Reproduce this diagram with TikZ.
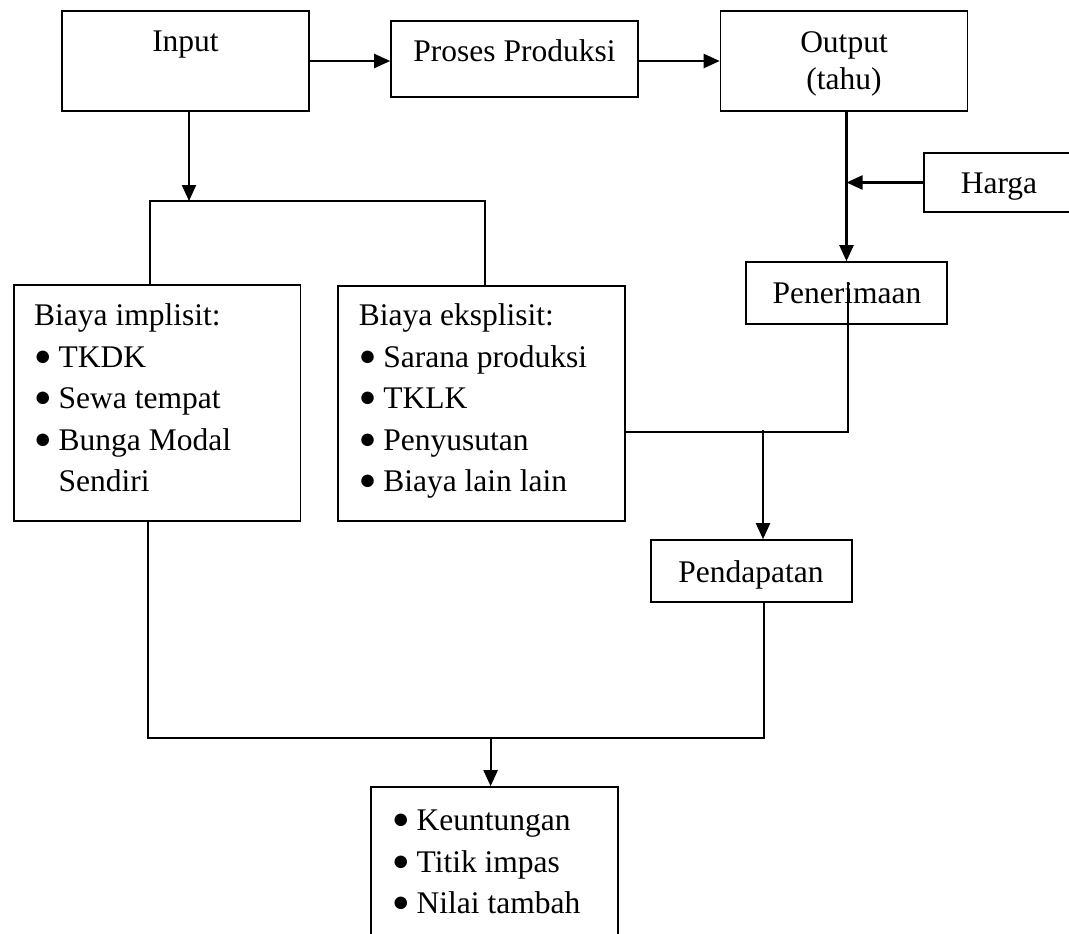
\documentclass[tikz,border=0pt]{standalone}
\usepackage{fontspec}
\setmainfont{Liberation Serif}
\usetikzlibrary{arrows.meta}
\begin{document}
\begin{tikzpicture}[x=1pt,y=-1pt,
  box/.style={draw, line width=1.6pt, inner sep=0pt},
  txt/.style={inner sep=0pt, anchor=base west, text height=23pt, text depth=7pt, font=\fontsize{31.5}{37}\selectfont},
  ctxt/.style={inner sep=0pt, anchor=base, text height=23pt, text depth=7pt, font=\fontsize{31.5}{37}\selectfont},
  arr/.style={line width=2.2pt, -{Triangle[length=16pt,width=14pt]}},
  thinline/.style={line width=1.5pt}]
\useasboundingbox (0,0) rectangle (1069,934);
\clip (0,0) rectangle (1069,934);
\newcommand{\bul}{\makebox[24.5pt][l]{\raisebox{2pt}{\fontsize{29}{29}\selectfont ●}}}
% boxes
\node[box, minimum width=247pt, minimum height=100pt] (in) at (185.5,61) {};
\node[box, minimum width=247pt, minimum height=76pt] (pp) at (514.5,59) {};
\node[box, minimum width=247pt, minimum height=100pt] (out) at (844,61) {};
\node[box, minimum width=150pt, minimum height=59pt] (harga) at (999,182.5) {};
\node[box, minimum width=201pt, minimum height=62pt] (pen) at (846.5,293) {};
\node[box, minimum width=286.6pt, minimum height=236pt] (imp) at (157.3,403) {};
\node[box, minimum width=287pt, minimum height=235pt] (eks) at (481.5,403.5) {};
\node[box, minimum width=201pt, minimum height=62pt] (pd) at (751.5,571) {};
\node[box, minimum width=247pt, minimum height=163pt] (res) at (494.5,868.5) {};
% texts
\node[ctxt] (tin) at (185.5,52) {Input};
\node[ctxt] (tpp) at (514.5,62) {Proses Produksi};
\node[ctxt] (tout1) at (844,53) {Output};
\node[ctxt] (tout2) at (844,90) {(tahu)};
\node[ctxt] (tharga) at (999,193) {Harga};
\node[ctxt] (tpen) at (847,303) {Penerimaan};
\node[ctxt] (tpd) at (751,582) {Pendapatan};
\node[txt] (ti0) at (34,325) {Biaya implisit:};
\node[txt] (ti1) at (34,367) {\bul TKDK};
\node[txt] (ti2) at (34,408) {\bul Sewa tempat};
\node[txt] (ti3) at (34,450) {\bul Bunga Modal};
\node[txt] (ti4) at (34,491) {\hspace*{24.5pt}Sendiri};
\node[txt] (te0) at (358.6,325) {Biaya eksplisit:};
\node[txt] (te1) at (358.6,367) {\bul Sarana produksi};
\node[txt] (te2) at (358.6,408) {\bul TKLK};
\node[txt] (te3) at (358.6,450) {\bul Penyusutan};
\node[txt] (te4) at (358.6,491) {\bul Biaya lain lain};
\node[txt] (tr1) at (392,830) {\bul Keuntungan};
\node[txt] (tr2) at (392,872) {\bul Titik impas};
\node[txt] (tr3) at (392,913) {\bul Nilai tambah};
% connectors
\draw[arr] (in.east) -- (in.east -| pp.west);
\draw[arr] (pp.east |- out.west) -- (out.west);
\coordinate (ba) at (189,201);
\draw[arr] (in.south -| ba) -- (ba);
\coordinate (bl) at (150,201);
\coordinate (br) at (485,201);
\draw[thinline] (imp.north -| bl) -- (bl) -- (br) -- (eks.north -| br);
\draw[arr] (out.south -| pen.north) -- (pen.north);
\draw[arr] (harga.west) -- (harga.west -| pen.north);
\coordinate (pi) at (848,282);
\coordinate (pj) at (848,432);
\draw[thinline] (pi) -- (pj) -- (pj -| eks.east);
\coordinate (pa) at (763,430);
\draw[arr] (pa) -- (pa |- pd.north);
\coordinate (qr) at (764,738);
\coordinate (ql) at (148,738);
\draw[thinline] (pd.south -| qr) -- (qr) -- (ql) -- (imp.south -| ql);
\coordinate (qa) at (490.6,738);
\draw[arr] (qa) -- (qa |- res.north);
\end{tikzpicture}
\end{document}
